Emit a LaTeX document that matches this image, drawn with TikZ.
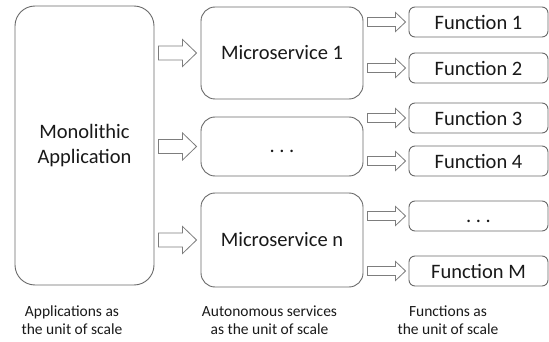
\documentclass[tikz,border=0pt]{standalone}
\usepackage{fontspec}
\setmainfont{Carlito}
\usetikzlibrary{calc}
\definecolor{boxline}{RGB}{105,105,105}
\definecolor{arrline}{RGB}{125,125,125}
\definecolor{txt}{RGB}{25,25,25}
\tikzset{
  basebox/.style={draw=boxline, line width=0.9pt, fill=white, text=txt, inner sep=0pt,
    font=\fontsize{20.5}{25}\selectfont, align=center},
  monobox/.style={basebox, rounded corners=20pt, minimum width=139pt, minimum height=279pt},
  microbox/.style={basebox, rounded corners=14pt, minimum width=162pt},
  funcbox/.style={basebox, rounded corners=6pt, minimum width=139pt, minimum height=30pt},
  blockarr/.style={draw=arrline, fill=white, line width=0.8pt, line join=miter},
  captiontext/.style={text=txt, font=\fontsize{15.5}{18.5}\selectfont, align=center, inner sep=0pt}
}
% #1 from node, #2 to node, #3 left gap, #4 right gap, #5 shaft half height, #6 head half height, #7 head length
\newcommand{\blockarrowgen}[7]{%
  \draw[blockarr] let \p1=(#1.east), \p2=(#2.west) in
    ({\x1+#3},{\y2+#5}) -- ({\x2-#4-#7},{\y2+#5}) -- ({\x2-#4-#7},{\y2+#6}) --
    ({\x2-#4},{\y2}) -- ({\x2-#4-#7},{\y2-#6}) -- ({\x2-#4-#7},{\y2-#5}) --
    ({\x1+#3},{\y2-#5}) -- cycle;}
\newcommand{\bigarrow}[2]{\blockarrowgen{#1}{#2}{4pt}{4pt}{7pt}{13.5pt}{14pt}}
\newcommand{\smallarrow}[2]{\blockarrowgen{#1}{#2}{4pt}{3pt}{4.5pt}{9.5pt}{10pt}}
\begin{document}
\begin{tikzpicture}[x=1pt,y=-1pt]
  \useasboundingbox (0,0) rectangle (549,342);
  \node[monobox] (mono) at (84.5,145.5) {Monolithic\\Application};

  \node[microbox, minimum height=92pt] (ms1) at (282,53) {Microservice 1};
  \node[microbox, minimum height=59pt] (msd) at (282,146.5) {\vphantom{F}.\ .\ .};
  \node[microbox, minimum height=94pt] (msn) at (282,240) {Microservice n};

  \node[funcbox] (f1) at (478.5,22) {Function 1};
  \node[funcbox] (f2) at (478.5,68) {Function 2};
  \node[funcbox] (f3) at (478.5,118) {Function 3};
  \node[funcbox] (f4) at (478.5,161) {Function 4};
  \node[funcbox] (fd) at (478.5,216) {\vphantom{F}.\ .\ .};
  \node[funcbox] (fm) at (478.5,271) {Function M};

  \bigarrow{mono}{ms1}
  \bigarrow{mono}{msd}
  \bigarrow{mono}{msn}

  \smallarrow{ms1}{f1}
  \smallarrow{ms1}{f2}
  \smallarrow{msd}{f3}
  \smallarrow{msd}{f4}
  \smallarrow{msn}{fd}
  \smallarrow{msn}{fm}

  \node[captiontext] (c1) at (72,320) {Applications as\\the unit of scale};
  \node[captiontext] (c2) at (269.5,320) {Autonomous services\\as the unit of scale};
  \node[captiontext] (c3) at (448,320) {Functions as\\the unit of scale};
\end{tikzpicture}
\end{document}
